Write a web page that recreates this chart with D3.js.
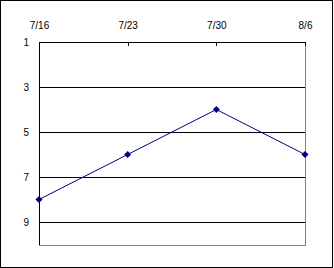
<!DOCTYPE html>
<html>
<head>
<meta charset="utf-8">
<script src="https://cdn.jsdelivr.net/npm/d3@7"></script>
<style>
    body { margin: 0; background: #fff; }
    svg { display: block; }
    .axis text { font-family: "Liberation Sans", Arial, sans-serif; font-size: 10px; fill: #000; }
    .axis path, .axis line { stroke: #000; shape-rendering: crispEdges; }
    .grid line { stroke: #000; shape-rendering: crispEdges; }
    .grid path { display: none; }
</style>
</head>
<body>
<div id="chart"></div>
<script>
    // data
    var dates = ["7/16", "7/23", "7/30", "8/6"];
    var ranks = [8, 6, 4, 6];
    var yTicks = [1, 3, 5, 7, 9];
    var gridTicks = [3, 5, 7, 9];

    var width = 334, height = 268;
    var plot = {left: 39, right: 305, top: 42, bottom: 244.5};

    var svg = d3.select("#chart").append("svg")
            .attr("width", width)
            .attr("height", height);

    // outer frame
    svg.append("rect")
            .attr("x", 0.5).attr("y", 0.5)
            .attr("width", width - 2).attr("height", height - 1)
            .attr("fill", "#fff")
            .attr("stroke", "#000")
            .attr("shape-rendering", "crispEdges");

    var x = d3.scalePoint().domain(dates).range([plot.left, plot.right]);
    var y = d3.scaleLinear().domain([1, 10]).range([plot.top, plot.bottom]);

    // plot area border (grey right / bottom)
    svg.append("rect")
            .attr("x", plot.left + 0.5).attr("y", plot.top + 0.5)
            .attr("width", plot.right - plot.left)
            .attr("height", Math.round(plot.bottom - plot.top))
            .attr("fill", "none")
            .attr("stroke", "#808080")
            .attr("shape-rendering", "crispEdges");

    // horizontal gridlines
    svg.append("g")
            .attr("class", "grid")
            .attr("transform", "translate(" + plot.left + ",0)")
            .call(d3.axisLeft(y).tickValues(gridTicks)
                    .tickSize(-(plot.right - plot.left)).tickFormat(""));

    // top axis (dates)
    svg.append("g")
            .attr("class", "axis x-axis")
            .attr("transform", "translate(0," + plot.top + ")")
            .call(d3.axisTop(x).tickSizeInner(-4).tickSizeOuter(0).tickPadding(13));

    // left axis (rank, reversed)
    svg.append("g")
            .attr("class", "axis y-axis")
            .attr("transform", "translate(" + plot.left + ",0)")
            .call(d3.axisLeft(y).tickValues(yTicks).tickSize(0).tickPadding(10));

    // line
    var line = d3.line()
            .x(function(d, i) { return x(dates[i]); })
            .y(function(d) { return y(d); });

    svg.append("path")
            .datum(ranks)
            .attr("fill", "none")
            .attr("stroke", "#000080")
            .attr("stroke-width", 1)
            .attr("d", line);

    // diamond markers
    svg.selectAll(".marker")
            .data(ranks)
            .enter().append("path")
            .attr("class", "marker")
            .attr("fill", "#000080")
            .attr("transform", function(d, i) {
                return "translate(" + x(dates[i]) + "," + y(d) + ") rotate(45)";
            })
            .attr("d", d3.symbol().type(d3.symbolSquare).size(25));
</script>
</body>
</html>
